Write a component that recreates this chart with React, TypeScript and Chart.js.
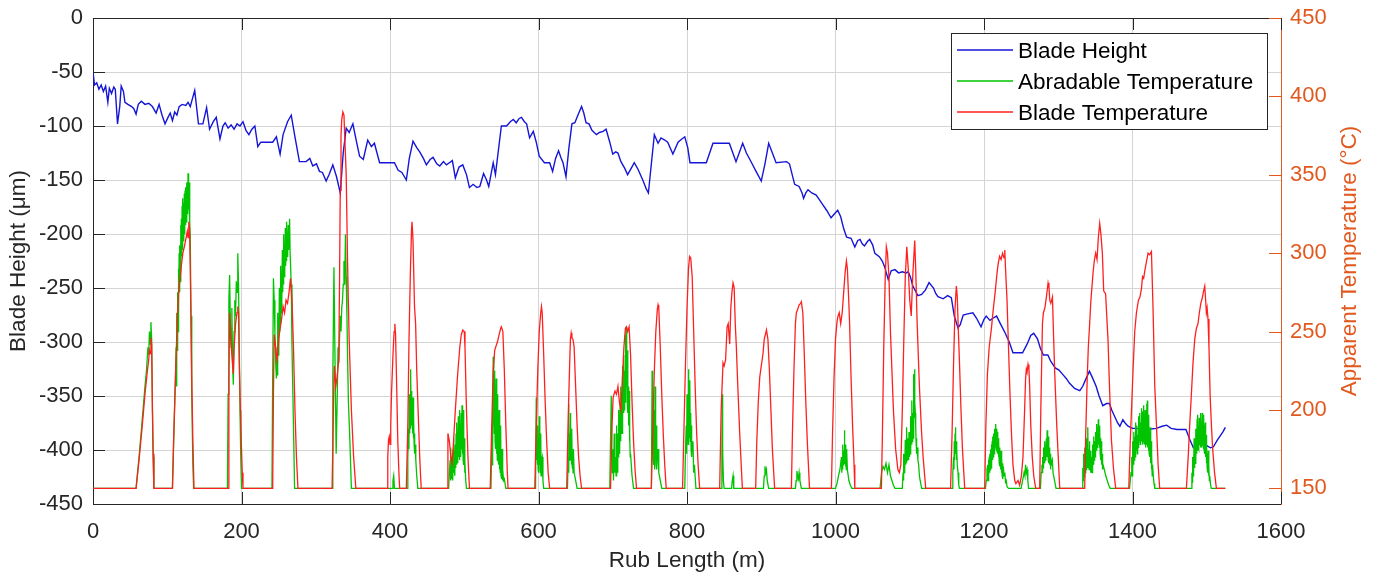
import React, { useEffect, useRef } from 'react';
import { Chart, registerables } from 'chart.js';

Chart.register(...registerables);

// ---------------- data ----------------
const X_TICKS = [0, 200, 400, 600, 800, 1000, 1200, 1400, 1600];
const LEFT_TICKS = [-450, -400, -350, -300, -250, -200, -150, -100, -50, 0];
const RIGHT_TICKS = [150, 200, 250, 300, 350, 400, 450];

const SERIES_LABELS = ['Blade Height', 'Abradable Temperature', 'Blade Temperature'];
const X_TITLE = 'Rub Length (m)';
const LEFT_TITLE = 'Blade Height (\u03bcm)';
const RIGHT_TITLE = 'Apparent Temperature (\u00b0C)';

// [rub length (m), blade height (um)]
const bladeHeight: number[][] = [
  [0,-50],[2,-62],[5,-60],[8,-66],[11,-62],[14,-68],[17,-63],[20,-78],[22,-65],[25,-70],[28,-64],[30,-66],[33,-98],[36,-82],[38,-63],[41,-68],[43,-78],[47,-80],[52,-82],[55,-84],[58,-89],[61,-80],[65,-77],[70,-80],[75,-79],[80,-82],[85,-88],[89,-80],[93,-90],[97,-98],[101,-92],[104,-88],[107,-95],[110,-87],[113,-90],[116,-82],[120,-80],[125,-81],[128,-78],[131,-82],[133,-77],[137,-67],[142,-98],[148,-98],[153,-83],[157,-103],[162,-96],[166,-92],[171,-112],[175,-100],[178,-97],[182,-102],[186,-99],[190,-103],[194,-98],[198,-100],[202,-96],[206,-104],[210,-108],[214,-103],[218,-100],[222,-119],[226,-115],[236,-115],[242,-115],[247,-110],[252,-126],[256,-108],[262,-96],[267,-90],[272,-110],[278,-133],[287,-133],[292,-130],[296,-137],[301,-135],[305,-142],[309,-143],[314,-151],[318,-145],[323,-136],[328,-147],[333,-162],[337,-125],[341,-102],[345,-106],[350,-98],[355,-115],[359,-128],[364,-131],[370,-113],[375,-119],[379,-116],[386,-134],[406,-134],[411,-141],[416,-143],[422,-150],[426,-130],[431,-114],[436,-120],[440,-124],[445,-130],[449,-136],[454,-131],[458,-129],[463,-135],[467,-137],[472,-133],[476,-136],[480,-134],[484,-132],[488,-148],[493,-138],[498,-136],[503,-145],[507,-157],[512,-154],[517,-157],[521,-156],[526,-144],[530,-150],[533,-156],[539,-134],[542,-145],[550,-100],[557,-100],[562,-96],[566,-94],[570,-97],[574,-93],[577,-92],[581,-96],[584,-98],[588,-111],[593,-105],[597,-115],[601,-128],[608,-134],[615,-134],[619,-142],[623,-130],[627,-123],[630,-129],[633,-134],[637,-147],[641,-120],[645,-98],[649,-97],[653,-90],[658,-82],[661,-88],[664,-97],[668,-98],[672,-104],[678,-108],[682,-106],[687,-105],[691,-103],[696,-115],[700,-126],[704,-124],[707,-125],[711,-133],[716,-139],[720,-145],[725,-139],[729,-134],[734,-140],[741,-151],[745,-158],[748,-162],[752,-135],[756,-108],[761,-116],[765,-111],[770,-113],[774,-115],[781,-126],[788,-115],[793,-112],[797,-110],[801,-120],[804,-134],[826,-134],[835,-116],[857,-116],[866,-133],[875,-116],[880,-125],[887,-134],[893,-142],[900,-151],[905,-135],[910,-116],[915,-125],[920,-134],[934,-133],[938,-135],[945,-154],[951,-156],[955,-162],[957,-167],[960,-162],[963,-159],[968,-162],[974,-164],[978,-168],[983,-173],[988,-178],[994,-185],[999,-181],[1003,-178],[1007,-184],[1011,-195],[1015,-203],[1021,-204],[1026,-212],[1030,-206],[1033,-205],[1036,-209],[1039,-211],[1043,-207],[1046,-205],[1050,-210],[1053,-218],[1059,-221],[1063,-225],[1066,-230],[1071,-242],[1075,-234],[1080,-233],[1085,-236],[1090,-235],[1095,-236],[1098,-235],[1101,-240],[1104,-248],[1111,-257],[1116,-256],[1121,-252],[1126,-245],[1132,-250],[1135,-255],[1138,-258],[1145,-260],[1151,-257],[1156,-259],[1160,-276],[1165,-287],[1168,-284],[1172,-275],[1178,-274],[1185,-273],[1190,-278],[1196,-286],[1200,-279],[1203,-276],[1208,-280],[1212,-278],[1217,-276],[1222,-283],[1228,-291],[1234,-300],[1239,-310],[1252,-310],[1258,-302],[1263,-294],[1267,-292],[1272,-297],[1276,-306],[1280,-312],[1286,-312],[1290,-318],[1296,-324],[1301,-326],[1306,-330],[1311,-334],[1315,-338],[1322,-343],[1329,-345],[1333,-341],[1338,-333],[1342,-327],[1346,-333],[1351,-341],[1355,-350],[1360,-359],[1365,-357],[1369,-357],[1372,-363],[1376,-369],[1380,-375],[1383,-378],[1387,-372],[1390,-375],[1394,-378],[1400,-380],[1405,-380],[1420,-381],[1432,-380],[1440,-378],[1446,-377],[1452,-380],[1460,-381],[1472,-381],[1477,-390],[1482,-398],[1487,-396],[1491,-394],[1496,-393],[1500,-396],[1505,-398],[1509,-397],[1514,-391],[1519,-386],[1522,-383],[1525,-379]
];

// [rub length (m), abradable temperature (C)]
const abradableTemp: number[][] = [
  [0,150],[58,150],[62,170],[66,192],[70,215],[72,225],[74,240],[75,235],[76,250],[77,242],[78,256],[79,245],[80,205],[81,170],[82,150],
  [107,150],[109,185],[111,220],[112,240],[112.5,215],[113,262],[113.5,238],[114,275],[114.5,250],[115,290],[115.5,262],[116,300],[116.5,275],[117,305],[117.5,282],[118,318],[118.5,290],[119,322],[119.5,298],[120,330],[120.5,302],[121,335],[121.5,308],[122,332],[122.5,310],[123,338],[123.5,312],[124,340],[124.5,318],[125,342],[125.5,320],[126,345],[126.5,322],[127,340],[127.5,325],[128,351],[128.5,328],[129,346],[129.5,330],[130,345],[130.5,320],[131,310],[132,260],[133,210],[134.5,165],[135.5,150],
  [181,150],[182,210],[183,270],[184,286],[185,255],[186,240],[187,265],[188,230],[189,216],[190,250],[191,270],[192,260],[193,282],[194,275],[195,300],[196,280],[197,240],[198,200],[199,170],[200,150],
  [241,150],[242,220],[243,284],[244,270],[245,250],[246,230],[247,220],[248,240],[248.5,222],[249,262],[249.5,235],[250,255],[250.5,238],[251,278],[251.5,250],[252,270],[252.5,255],[253,292],[253.5,262],[254,285],[254.5,268],[255,302],[255.5,275],[256,295],[256.5,280],[257,312],[257.5,285],[258,300],[258.5,288],[259,316],[259.5,292],[260,305],[260.5,295],[261,320],[261.5,298],[262,310],[262.5,300],[263,318],[263.5,302],[264,312],[264.5,305],[265,322],[265.5,300],[266,300],[267,280],[268,240],[270,190],[271.5,150],
  [322,150],[323,220],[324.5,291],[326,230],[327.5,172],[329,210],[330,240],[331,230],[332,245],[333,260],[334,250],[335,265],[336,270],[337,280],[338,295],[339,280],[340,312],[341,285],[342,260],[343,230],[344,205],[346,180],[348,150],
  [403,150],[404,155],[405,158],[406,150],
  [423,150],[424,170],[425,188],[425.5,175],[426,210],[426.5,185],[427,200],[427.5,188],[428,226],[428.5,195],[429,212],[429.5,190],[430,205],[430.5,185],[431,208],[431.5,182],[432,195],[432.5,178],[433,185],[433.5,172],[434,178],[434.5,168],[435,168],[436,158],[437.5,150],
  [479,150],[480,160],[481,168],[481.5,155],[482,176],[482.5,158],[483,170],[483.5,156],[484,162],[484.5,155],[485,175],[485.5,160],[486,182],[486.5,162],[487,172],[487.5,158],[488,178],[488.5,163],[489,185],[489.5,165],[490,192],[490.5,168],[491,180],[491.5,166],[492,196],[492.5,170],[493,185],[493.5,168],[494,200],[494.5,172],[495,190],[495.5,170],[496,198],[496.5,175],[497,203],[497.5,172],[498,192],[498.5,168],[499,200],[499.5,165],[500,182],[500.5,160],[501,168],[502,155],[503,150],
  [536,150],[537,180],[537.5,165],[538,200],[538.5,175],[539,234],[539.5,190],[540,215],[540.5,185],[541,225],[541.5,180],[542,206],[542.5,175],[543,220],[543.5,172],[544,195],[544.5,168],[545,210],[545.5,170],[546,185],[546.5,165],[547,200],[547.5,162],[548,178],[548.5,160],[549,190],[549.5,158],[550,170],[550.5,156],[551,175],[551.5,155],[552,162],[553,155],[554,156],[556,150],
  [596,150],[597,208],[597.5,168],[598,180],[598.5,165],[599,190],[599.5,162],[600,175],[600.5,160],[601,196],[601.5,165],[602,178],[602.5,160],[603,185],[603.5,158],[604,168],[605,170],[606,155],[607,150],
  [639,150],[640,170],[640.5,160],[641,204],[641.5,172],[642,185],[642.5,168],[643,198],[643.5,170],[644,180],[644.5,165],[645,188],[645.5,163],[646,172],[646.5,160],[647,175],[648,160],[650,155],[652,150],
  [696,150],[697,180],[698,209],[699,160],[700,175],[701,155],[702,185],[703,160],[704,170],[704.5,158],[705,190],[705.5,165],[706,180],[706.5,160],[707,185],[707.5,170],[708,200],[708.5,175],[709,190],[709.5,172],[710,205],[710.5,180],[711,215],[711.5,188],[712,205],[712.5,185],[713,228],[713.5,195],[714,215],[714.5,198],[715,235],[715.5,200],[716,225],[716.5,205],[717,248],[717.5,210],[718,253],[718.5,215],[719,232],[719.5,205],[720,238],[720.5,198],[721,215],[721.5,190],[722,212],[722.5,180],[723,185],[723.5,170],[724,172],[725,165],[726,158],[728,150],
  [752,150],[753,225],[753.5,172],[754,190],[754.5,168],[755,200],[755.5,165],[756,182],[756.5,162],[757,215],[757.5,170],[758,185],[758.5,165],[759,190],[759.5,162],[760,172],[761,175],[762,160],[764,155],[766,150],
  [797,150],[798,175],[799,190],[799.5,172],[800,210],[800.5,180],[801,198],[801.5,178],[802,226],[802.5,185],[803,205],[803.5,182],[804,219],[804.5,180],[805,198],[805.5,175],[806,190],[806.5,170],[807,178],[808,180],[809,160],[810,165],[812,150],
  [846,150],[847,170],[847.6,210],[848,175],[849,155],[850,150],[860,150],[861,155],[862,158],[863,150],
  [903,150],[904,158],[905,164],[906,160],[907,162],[908,155],[910,150],
  [946,150],[947,155],[948,161],[949,158],[950,156],[951,160],[952,155],[954,150],
  [1000,150],[1002,153],[1004,158],[1006,162],[1008,170],[1008.5,160],[1009,168],[1009.5,162],[1010,178],[1010.5,165],[1011,174],[1011.5,166],[1012,187],[1012.5,168],[1013,178],[1013.5,164],[1014,172],[1014.5,162],[1015,175],[1016,162],[1018,155],[1020,152],[1022,150],
  [1060,150],[1062,160],[1064,164],[1066,162],[1068,166],[1070,160],[1072,165],[1074,158],[1076,155],[1078,152],[1080,150],[1090,150],[1091,160],[1091.5,155],[1092,172],[1092.5,160],[1093,168],[1093.5,162],[1094,181],[1094.5,165],[1095,177],[1095.5,166],[1096,189],[1096.5,168],[1097,182],[1097.5,170],[1098,175],[1098.5,168],[1099,186],[1099.5,170],[1100,180],[1100.5,172],[1101,196],[1101.5,175],[1102,188],[1102.5,178],[1103,206],[1103.5,180],[1104,198],[1104.5,182],[1105,223],[1105.5,190],[1106,212],[1106.5,195],[1106.7,226],[1107,205],[1107.5,198],[1108,190],[1108.5,180],[1109,182],[1109.5,172],[1110,176],[1111,168],[1112,165],[1113,158],[1114,155],[1116,150],
  [1157,150],[1158,160],[1159,170],[1159.5,162],[1160,180],[1160.5,168],[1161,185],[1161.5,189],[1162,172],[1162.5,180],[1163,168],[1163.5,175],[1164,165],[1165,160],[1166,152],[1167,150],
  [1202,150],[1203,155],[1204,162],[1205,165],[1205.5,155],[1206,168],[1206.5,158],[1207,170],[1207.5,160],[1208,172],[1208.5,162],[1209,175],[1209.5,163],[1210,178],[1210.5,165],[1211,180],[1211.5,168],[1212,183],[1212.5,170],[1213,185],[1213.5,172],[1214,188],[1214.5,174],[1215,186],[1215.5,176],[1216,191],[1216.5,175],[1217,188],[1217.5,174],[1218,186],[1218.5,172],[1219,182],[1219.5,170],[1220,180],[1220.5,166],[1221,176],[1221.5,164],[1222,172],[1222.5,162],[1223,174],[1223.5,160],[1224,170],[1224.5,158],[1225,166],[1225.5,156],[1226,164],[1227,158],[1228,160],[1229,154],[1230,155],[1231,151],[1233,150],
  [1250,150],[1252,155],[1254,160],[1255,158],[1256,165],[1257,160],[1258,162],[1259,155],[1260,150],
  [1276,150],[1277,160],[1278,165],[1278.5,160],[1279,170],[1279.5,163],[1280,176],[1280.5,165],[1281,172],[1281.5,166],[1282,180],[1282.5,168],[1283,175],[1283.5,168],[1284,182],[1284.5,170],[1285,187],[1285.5,170],[1286,180],[1286.5,168],[1287,183],[1287.5,166],[1288,176],[1288.5,165],[1289,172],[1289.5,162],[1290,170],[1291,166],[1292,168],[1293,160],[1295,155],[1297,150],
  [1332,150],[1333,163],[1333.5,155],[1334,172],[1334.5,158],[1335,168],[1335.5,157],[1336,176],[1336.5,160],[1337,170],[1337.5,162],[1338,182],[1338.5,164],[1339,176],[1339.5,163],[1340,189],[1340.5,165],[1341,175],[1341.5,162],[1342,180],[1342.5,163],[1343,172],[1343.5,160],[1344,174],[1344.5,162],[1345,170],[1345.5,160],[1346,178],[1346.5,163],[1347,174],[1347.5,165],[1348,183],[1348.5,168],[1349,180],[1349.5,170],[1350,186],[1350.5,172],[1351,182],[1351.5,174],[1352,191],[1352.5,176],[1353,186],[1353.5,177],[1354,194],[1354.5,178],[1355,188],[1355.5,176],[1356,190],[1356.5,172],[1357,182],[1357.5,168],[1358,180],[1358.5,165],[1359,172],[1359.5,162],[1360,166],[1362,162],[1364,158],[1366,155],[1368,152],[1370,150],
  [1396,150],[1398,160],[1399,170],[1399.5,158],[1400,180],[1400.5,162],[1401,176],[1401.5,165],[1402,186],[1402.5,168],[1403,183],[1403.5,170],[1404,192],[1404.5,172],[1405,186],[1405.5,174],[1406,190],[1406.5,172],[1407,184],[1407.5,176],[1408,196],[1408.5,178],[1409,190],[1409.5,180],[1410,198],[1410.5,178],[1411,192],[1411.5,182],[1412,201],[1412.5,180],[1413,194],[1413.5,178],[1414,199],[1414.5,182],[1415,203],[1415.5,180],[1416,195],[1416.5,178],[1417,200],[1417.5,176],[1418,192],[1418.5,178],[1419,204],[1419.5,180],[1420,206],[1420.5,176],[1421,192],[1421.5,174],[1422,197],[1422.5,172],[1423,186],[1423.5,170],[1424,189],[1424.5,166],[1425,180],[1425.5,162],[1426,172],[1426.5,158],[1427,165],[1428,158],[1429,153],[1430,150],
  [1479,150],[1480,160],[1480.5,154],[1481,170],[1481.5,158],[1482,168],[1482.5,160],[1483,182],[1483.5,163],[1484,178],[1484.5,166],[1485,188],[1485.5,170],[1486,184],[1486.5,172],[1487,194],[1487.5,174],[1488,197],[1488.5,176],[1489,188],[1489.5,175],[1490,195],[1490.5,178],[1491,190],[1491.5,176],[1492,198],[1492.5,178],[1493,188],[1493.5,176],[1494,198],[1494.5,177],[1495,192],[1495.5,175],[1496,197],[1496.5,174],[1497,190],[1497.5,172],[1498,192],[1498.5,170],[1499,184],[1499.5,166],[1500,178],[1500.5,163],[1501,172],[1501.5,160],[1502,174],[1502.5,158],[1503,164],[1503.5,155],[1504,158],[1505,153],[1506,150],[1525,150]
];

// [rub length (m), blade temperature (C)]
const bladeTemp: number[][] = [
  [0,150],[58,150],[62,168],[66,188],[70,210],[73,224],[75,232],[76,238],[77,236],[78,246],[79,242],[80,200],[81,172],[82,150],
  [107,150],[108.5,180],[110.5,212],[113,250],[115,274],[117,283],[119,292],[121,300],[123,304],[125.5,310],[127,314],[128,310],[129,320],[130,316],[131,290],[133,220],[134.5,180],[136,150],
  [182,150],[183,220],[184,262],[185,250],[187,235],[189,223],[190,240],[192,255],[194,262],[195,266],[196,262],[197,230],[199,190],[201,160],[202,150],
  [242,150],[243,210],[244,248],[246,240],[247,235],[248,232],[250,245],[252,252],[254,258],[256,266],[258,262],[260,270],[262,268],[264,275],[266,284],[268,270],[270,240],[272,200],[274,170],[276,150],
  [322,150],[324,205],[325,228],[327,215],[329,222],[331,232],[332,280],[333,340],[334,375],[335,385],[336.5,390],[338,388],[339,375],[341,350],[343,290],[345,245],[348,200],[351,170],[354,150],
  [396,150],[397,170],[398,181],[399,183],[400,178],[401,190],[402,210],[404,235],[405.5,250],[406.5,255],[407.5,248],[409,215],[410.5,180],[412,160],[413,150],
  [422,150],[424,190],[425.6,245],[427.4,287],[429,315],[429.7,320],[431,308],[433,266],[434.5,255],[436,225],[437.7,202],[440,170],[442,150],
  [477,150],[478,185],[480,180],[482,170],[483.5,166],[485,175],[488,200],[491,222],[494,240],[496,248],[498,251],[500,250],[501,240],[503,200],[505,170],[507,150],
  [535,150],[537,190],[539,225],[541,238],[543,241],[545,244],[547,248],[549,252],[550,253],[552,250],[554,225],[556,190],[558,160],[559,150],
  [595,150],[597,190],[599,225],[601,250],[603,262],[604,266],[605,262],[607,235],[609,205],[611,180],[613,160],[615,150],
  [638,150],[640,195],[642,230],[643,245],[644,249],[645,246],[646.5,245],[648,240],[650,215],[652,190],[654,170],[656,158],[658,150],
  [697,150],[699,190],[700.5,208],[703,212],[705,210],[707,215],[709,205],[711,200],[713,220],[715,240],[717,252],[718.5,253],[720,250],[722,253],[724,235],[726,205],[728,180],[730,162],[732,150],
  [752,150],[754,190],[756,225],[758,250],[760,264],[761,267],[762,265],[764,240],[766,210],[768,185],[770,165],[772,150],
  [794,150],[796,190],[798,230],[800,265],[802,290],[803.5,298],[805,297],[807,285],[809,250],[811,215],[813,185],[815,165],[817,150],
  [844,150],[846,200],[848.5,230],[850,228],[852,232],[854,253],[855.5,255],[857.5,242],[859,265],[860.5,275],[862,281],[863.5,278],[865,255],[866.5,240],[868,220],[871,185],[873,165],[874.6,150],
  [892.5,150],[894,180],[896,205],[898,221],[900,228],[902.4,236],[904,245],[907,251],[909,245],[911,225],[913,200],[915,175],[918,150],
  [940.6,150],[942,185],[944,225],[946,255],[947.3,262],[949,264],[951,267],[953,268],[954,269],[956,262],[958,235],[960,205],[962,180],[964,160],[965,150],
  [994.5,150],[996,185],[998,220],[1000,245],[1002,256],[1003.4,260],[1005,262],[1007,255],[1009,262],[1011,275],[1013,288],[1014.7,295],[1016,290],[1018,268],[1019,255],[1021,220],[1023,190],[1025,165],[1026,150],
  [1061.8,150],[1063,180],[1065,240],[1067,285],[1068.5,304],[1070,300],[1072,285],[1074,250],[1076,225],[1078,200],[1081,175],[1084,162],[1086,160],[1088,165],[1090,200],[1092,245],[1094,285],[1096,304],[1098,290],[1100,270],[1102,260],[1104,285],[1106.7,308],[1108,290],[1110,255],[1113,215],[1116,185],[1118,170],[1121.5,150],
  [1155,150],[1157,185],[1159,230],[1161,265],[1162.8,279],[1164,272],[1165.5,250],[1167,230],[1169,200],[1171,175],[1174,150],
  [1201,150],[1202.5,190],[1204.6,223],[1207,240],[1210,252],[1212,262],[1215,275],[1217.5,287],[1219,293],[1221,298],[1223,296],[1225,300],[1227,297],[1228,302],[1229,290],[1231,270],[1233,240],[1235,210],[1237,185],[1239,165],[1241.4,155],[1243,153],[1245.8,155],[1248,152],[1250.4,158],[1252.5,170],[1254.7,200],[1256,220],[1257,226],[1258,224],[1259.3,229],[1260.5,226],[1261.5,215],[1263,190],[1265,170],[1267,158],[1269.6,150],
  [1275,150],[1276.5,200],[1278.7,255],[1280,262],[1282,265],[1284,272],[1286.3,281],[1287.5,278],[1288.6,270],[1290,268],[1292.2,272],[1293.5,250],[1295.3,223],[1298,190],[1300,170],[1302,150],
  [1335.6,150],[1337,185],[1339,220],[1340.5,240],[1342.3,255],[1344,270],[1346.8,287],[1348.5,295],[1350.4,300],[1352.2,296],[1354,310],[1355.8,319],[1357.5,312],[1359.4,300],[1361.2,276],[1363.8,274],[1365.5,258],[1367,245],[1369,215],[1371.6,181],[1374.5,162],[1377.4,150],
  [1395,150],[1397,180],[1400.7,225],[1403,250],[1405.3,262],[1408,270],[1410,272],[1412,277],[1413.5,285],[1415,284],[1417,290],[1419,295],[1421,300],[1423,299],[1425.5,301],[1427.6,266],[1430,215],[1432.2,191],[1434.5,165],[1436.6,150],
  [1472.6,150],[1475,170],[1477,190],[1479.3,210],[1481.5,230],[1483.8,245],[1486,252],[1488.2,255],[1490,262],[1492,268],[1494.2,272],[1495.8,276],[1497.3,279],[1498.5,270],[1499.5,262],[1500.5,265],[1501.7,258],[1503,240],[1504.5,210],[1506.3,190],[1508,175],[1510.5,160],[1513,150],[1525,150]
];

// ---------------- styles ----------------
const W = 1381;
const H = 579;
const FONT = '"Liberation Sans", Arial, Helvetica, sans-serif';
const AXIS = '#262626';
const RIGHT = '#e2591f';
const GRID = '#d4d4d4';
const COLORS = ['#1515d8', '#00c400', '#ff1f1f'];
const TICK = 12;

const toPts = (arr: number[][]) => arr.map(([x, y]) => ({ x, y }));
const plain = (v: any) => String(v);

const noPad = (s: any) => {
  s.paddingTop = 0;
  s.paddingBottom = 0;
  s.paddingLeft = 0;
  s.paddingRight = 0;
};

const overlay = {
  id: 'overlay',
  afterDraw(chart: any) {
    const { ctx, chartArea: a, scales } = chart;
    const sx = scales.x, sy = scales.y, sy1 = scales.y1;
    ctx.save();
    ctx.lineWidth = 1;
    ctx.strokeStyle = AXIS;
    ctx.beginPath();
    const top = Math.round(a.top) + 0.5;
    ctx.moveTo(a.left, top);
    ctx.lineTo(a.right, top);
    for (const v of X_TICKS) {
      const px = Math.round(sx.getPixelForValue(v)) + 0.5;
      ctx.moveTo(px, a.bottom);
      ctx.lineTo(px, a.bottom - TICK);
      ctx.moveTo(px, a.top);
      ctx.lineTo(px, a.top + TICK);
    }
    for (const v of LEFT_TICKS) {
      const py = Math.round(sy.getPixelForValue(v)) + 0.5;
      ctx.moveTo(a.left, py);
      ctx.lineTo(a.left + TICK, py);
    }
    ctx.stroke();
    ctx.strokeStyle = RIGHT;
    ctx.beginPath();
    for (const v of RIGHT_TICKS) {
      const py = Math.round(sy1.getPixelForValue(v)) + 0.5;
      ctx.moveTo(a.right, py);
      ctx.lineTo(a.right - TICK, py);
    }
    ctx.stroke();

    // right axis title (reads bottom to top)
    ctx.save();
    ctx.translate(a.right + 69, (a.top + a.bottom) / 2);
    ctx.rotate(-Math.PI / 2);
    ctx.fillStyle = RIGHT;
    ctx.font = `22.5px ${FONT}`;
    ctx.textAlign = 'center';
    ctx.textBaseline = 'middle';
    ctx.fillText(RIGHT_TITLE, 0, 0);
    ctx.restore();

    // legend
    const lx = 951, ly = 33, lw = 316, lh = 96;
    ctx.fillStyle = '#ffffff';
    ctx.fillRect(lx, ly, lw, lh);
    ctx.strokeStyle = AXIS;
    ctx.lineWidth = 1;
    ctx.strokeRect(lx + 0.5, ly + 0.5, lw, lh);
    ctx.font = `22.5px ${FONT}`;
    ctx.textAlign = 'left';
    ctx.textBaseline = 'middle';
    chart.data.datasets.forEach((ds: any, i: number) => {
      const yy = ly + 17 + i * 31;
      ctx.strokeStyle = ds.borderColor;
      ctx.lineWidth = 1.3;
      ctx.beginPath();
      ctx.moveTo(957, yy);
      ctx.lineTo(1013, yy);
      ctx.stroke();
      ctx.fillStyle = '#000000';
      ctx.fillText(ds.label, 1018, yy + 1.5);
    });
    ctx.restore();
  },
};

export default function App() {
  const ref = useRef<HTMLCanvasElement>(null);
  useEffect(() => {
    if (!ref.current) return;
    const chart = new Chart(ref.current, {
      type: 'line',
      data: {
        datasets: [
          { label: SERIES_LABELS[0], data: toPts(bladeHeight), borderColor: COLORS[0], yAxisID: 'y', order: 2, borderWidth: 1.4 },
          { label: SERIES_LABELS[1], data: toPts(abradableTemp), borderColor: COLORS[1], yAxisID: 'y1', order: 1 },
          { label: SERIES_LABELS[2], data: toPts(bladeTemp), borderColor: COLORS[2], yAxisID: 'y1', order: 0 },
        ],
      } as any,
      options: {
        animation: false,
        responsive: false,
        maintainAspectRatio: false,
        events: [],
        layout: { padding: { top: 18, left: 0, right: 0, bottom: 0 } },
        elements: {
          point: { radius: 0 },
          line: { borderWidth: 1.3, tension: 0, fill: false },
        },
        plugins: { legend: { display: false }, tooltip: { enabled: false } },
        scales: {
          x: {
            type: 'linear',
            min: 0,
            max: 1600,
            afterBuildTicks: (s: any) => { s.ticks = X_TICKS.map((value) => ({ value })); },
            afterFit: (s: any) => { s.height = 75; noPad(s); },
            grid: { color: GRID, lineWidth: 1, drawTicks: false, tickLength: 0 },
            border: { color: AXIS, width: 1 },
            ticks: { font: { family: FONT, size: 22 }, color: AXIS, padding: 15, maxRotation: 0, autoSkip: false, callback: plain },
            title: { display: true, text: X_TITLE, font: { family: FONT, size: 22.5 }, color: AXIS, padding: { top: 0, bottom: 4.5 } },
          },
          y: {
            type: 'linear',
            position: 'left',
            min: -450,
            max: 0,
            afterBuildTicks: (s: any) => { s.ticks = LEFT_TICKS.map((value) => ({ value })); },
            afterFit: (s: any) => { s.width = 93; noPad(s); },
            grid: { color: GRID, lineWidth: 1, drawTicks: false, tickLength: 0 },
            border: { color: AXIS, width: 1 },
            ticks: { font: { family: FONT, size: 22 }, color: AXIS, padding: 10, autoSkip: false, callback: plain },
            title: { display: true, text: LEFT_TITLE, font: { family: FONT, size: 22.5 }, color: AXIS, padding: { top: 5.5, bottom: 0 } },
          },
          y1: {
            type: 'linear',
            position: 'right',
            min: 140,
            max: 450,
            afterBuildTicks: (s: any) => { s.ticks = RIGHT_TICKS.map((value) => ({ value })); },
            afterFit: (s: any) => { s.width = 100; noPad(s); },
            grid: { display: false, drawTicks: false, tickLength: 0 },
            border: { color: RIGHT, width: 1 },
            ticks: { font: { family: FONT, size: 22 }, color: RIGHT, padding: 9, autoSkip: false, callback: plain },
          },
        },
      } as any,
      plugins: [overlay],
    });
    return () => chart.destroy();
  }, []);

  return (
    <div style={{ position: 'fixed', left: 0, top: 0, width: W, height: H, background: '#ffffff' }}>
      <canvas ref={ref} width={W} height={H} style={{ display: 'block', width: W, height: H }} />
    </div>
  );
}
